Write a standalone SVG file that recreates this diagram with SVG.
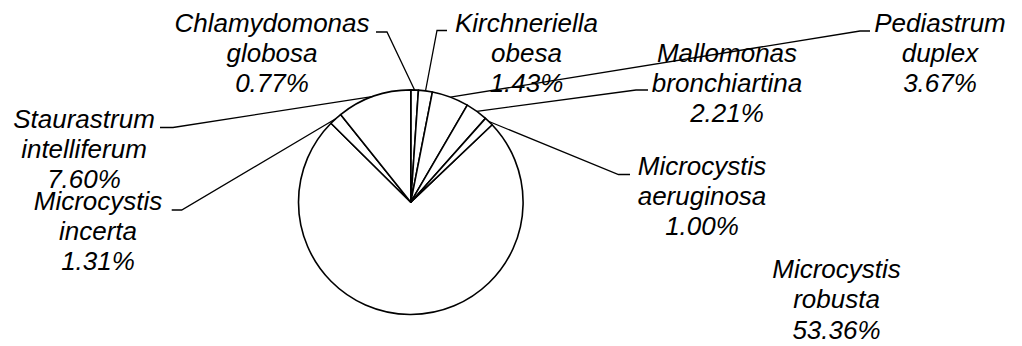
<svg xmlns="http://www.w3.org/2000/svg" width="1022" height="346" viewBox="0 0 1022 346">
<style>
.s{fill:#fff;stroke:#000;stroke-width:1.6;stroke-linejoin:round}
.l{fill:none;stroke:#000;stroke-width:1.3}
text{font-family:"Liberation Sans",Arial,sans-serif;font-style:italic;font-size:26px;fill:#000;text-anchor:middle}
</style>
<rect width="1022" height="346" fill="#fff"/>
<g id="pie">
<path class="s" d="M410.8,202.2 L492.12,124.76 A112.3,112.3 0 1 1 330.97,123.22 Z"/>
<path class="s" d="M410.8,202.2 L410.8,89.9 A112.3,112.3 0 0 1 418.44,90.16 Z"/>
<path class="s" d="M410.8,202.2 L418.44,90.16 A112.3,112.3 0 0 1 432.42,91.96 Z"/>
<path class="s" d="M410.8,202.2 L432.42,91.96 A112.3,112.3 0 0 1 467.29,105.14 Z"/>
<path class="s" d="M410.8,202.2 L467.29,105.14 A112.3,112.3 0 0 1 485.5,118.35 Z"/>
<path class="s" d="M410.8,202.2 L485.5,118.35 A112.3,112.3 0 0 1 492.12,124.76 Z"/>
<path class="s" d="M410.8,202.2 L330.97,123.22 A112.3,112.3 0 0 1 340.59,114.56 Z"/>
<path class="s" d="M410.8,202.2 L340.59,114.56 A112.3,112.3 0 0 1 410.8,89.9 Z"/>
</g>
<g id="connectors">
<polyline class="l" points="376,32 387,32 414.6,90"/>
<polyline class="l" points="447,30.5 437,30.5 425.5,91"/>
<polyline class="l" points="870,31 860,31 450.4,97.1"/>
<polyline class="l" points="648,90 636,90 476.7,111.3"/>
<polyline class="l" points="630,174.5 618.5,174.5 489,121.5"/>
<polyline class="l" points="160,127.5 173,127.5 373.6,96.3"/>
<polyline class="l" points="171.7,210 181.7,210 335.7,118.7"/>
</g>
<g id="label-chlamydomonas"><text x="272" y="31.5">Chlamydomonas</text><text x="272" y="61.5">globosa</text><text x="272" y="91.5">0.77%</text></g>
<g id="label-kirchneriella"><text x="526.5" y="31.5">Kirchneriella</text><text x="526.5" y="61.5">obesa</text><text x="526.5" y="91.5">1.43%</text></g>
<g id="label-mallomonas"><text x="727" y="61.5">Mallomonas</text><text x="727" y="91.5">bronchiartina</text><text x="727" y="121.5">2.21%</text></g>
<g id="label-pediastrum"><text x="940" y="31.5">Pediastrum</text><text x="940" y="61.5">duplex</text><text x="940" y="91.5">3.67%</text></g>
<g id="label-aeruginosa"><text x="702" y="175">Microcystis</text><text x="702" y="205">aeruginosa</text><text x="702" y="235">1.00%</text></g>
<g id="label-robusta"><text x="836.5" y="277.5">Microcystis</text><text x="836.5" y="308">robusta</text><text x="836.5" y="338.5">53.36%</text></g>
<g id="label-incerta"><text x="98" y="210">Microcystis</text><text x="98" y="240">incerta</text><text x="98" y="270">1.31%</text></g>
<g id="label-staurastrum"><text x="84" y="128.3">Staurastrum</text><text x="84" y="158.3">intelliferum</text><text x="84" y="188.3">7.60%</text></g>
</svg>
